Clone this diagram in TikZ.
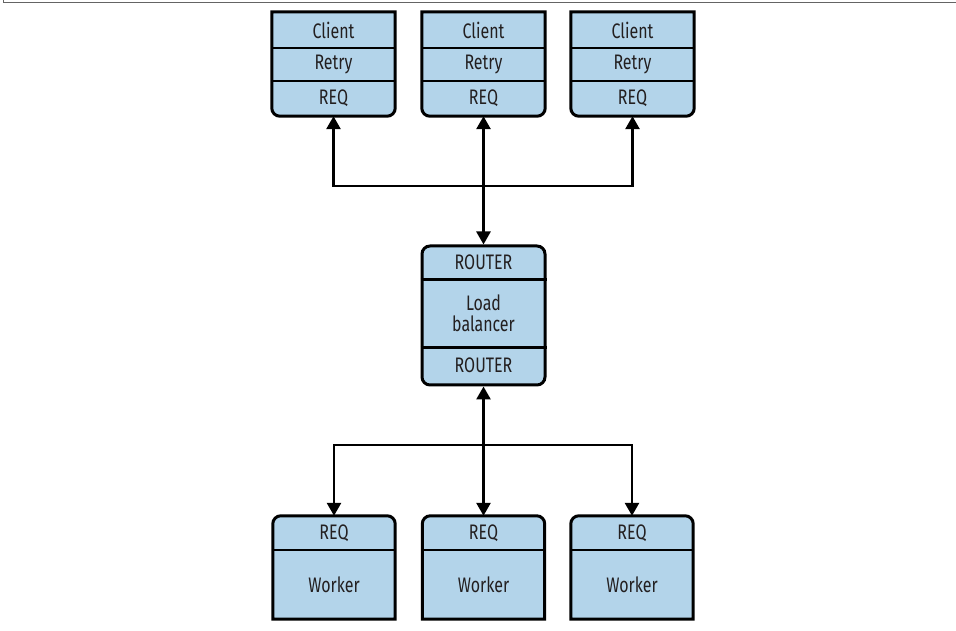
\documentclass[tikz,border=0pt]{standalone}
\usepackage{fontspec}
\setmainfont[FakeStretch=0.76]{Fira Sans}
\usetikzlibrary{arrows.meta,calc}
\definecolor{boxblue}{RGB}{179,212,234}
\definecolor{txt}{RGB}{35,31,32}
\definecolor{framegray}{RGB}{100,100,100}
\newcommand{\clientshape}[1]{%
  \draw[boxline] (#1.north west) -- (#1.north east) -- ([yshift=8pt]#1.south east)
    arc[start angle=0,end angle=-90,radius=8pt] -- ([xshift=8pt]#1.south west)
    arc[start angle=270,end angle=180,radius=8pt] -- cycle;}
\newcommand{\workershape}[1]{%
  \draw[boxline] (#1.south west) -- ([yshift=-8pt]#1.north west)
    arc[start angle=180,end angle=90,radius=8pt] -- ([xshift=-8pt]#1.north east)
    arc[start angle=90,end angle=0,radius=8pt] -- (#1.south east) -- cycle;}
\begin{document}
\begin{tikzpicture}[x=1pt,y=1pt,
  boxline/.style={line width=3pt,fill=boxblue,draw=black},
  divline/.style={line width=2.2pt,draw=black},
  holder/.style={inner sep=0pt,minimum width=123pt,draw=none},
  lbl/.style={inner sep=0pt,font=\fontsize{21}{22}\selectfont,text=txt,align=center},
  conn/.style={line width=2.7pt,-{Triangle[width=14pt,length=13pt]}},
  conn2/.style={line width=2.7pt,{Triangle[width=14pt,length=13pt]}-{Triangle[width=14pt,length=13pt]}}]
\useasboundingbox (0,0) rectangle (956,631);
% frame
\draw[framegray,line width=1.5pt] (3.5,631) -- (3.5,628.5) -- (956,628.5);
% client holders
\foreach \n/\x in {c1/333.5,c2/483.5,c3/632.5}{
  \node[holder,minimum height=104pt] (\n) at (\x,567) {};
}
\clientshape{c1}\clientshape{c2}\clientshape{c3}
\foreach \n in {c1,c2,c3}{
  \draw[divline] ($(\n.north west)+(0,-36)$) -- ($(\n.north east)+(0,-36)$);
  \draw[divline] ($(\n.north west)+(0,-69)$) -- ($(\n.north east)+(0,-69)$);
  \node[lbl] (\n-a) at ($(\n.north)+(0,-18.5)$) {Client};
  \node[lbl] (\n-b) at ($(\n.north)+(0,-52.5)$) {Retry};
  \node[lbl] (\n-c) at ($(\n.north)+(0,-86.5)$) {REQ};
}
% router
\node[holder,minimum height=139pt,rounded corners=8pt,draw=black,line width=3pt,fill=boxblue] (r) at (483.5,315.5) {};
\draw[divline] ($(r.north west)+(0,-35)$) -- ($(r.north east)+(0,-35)$);
\draw[divline] ($(r.north west)+(0,-103)$) -- ($(r.north east)+(0,-103)$);
\node[lbl] (r-a) at ($(r.north)+(0,-17.5)$) {ROUTER};
\node[lbl] (r-b) at ($(r.north)+(0,-69)$) {Load\\[-1pt]balancer};
\node[lbl] (r-c) at ($(r.north)+(0,-121)$) {ROUTER};
% workers
\foreach \n/\x in {w1/334,w2/483.5,w3/632}{
  \node[holder,minimum height=103pt,minimum width=122pt] (\n) at (\x,63.5) {};
}
\workershape{w1}\workershape{w2}\workershape{w3}
\foreach \n in {w1,w2,w3}{
  \draw[divline] ($(\n.north west)+(0,-34)$) -- ($(\n.north east)+(0,-34)$);
  \node[lbl] (\n-a) at ($(\n.north)+(0,-17.5)$) {REQ};
  \node[lbl] (\n-b) at ($(\n.north)+(0,-69)$) {Worker};
}
% connectors
\coordinate (jt) at (483.5,445);
\coordinate (jb) at (483.5,186);
\draw[conn2] (r.north) -- (c2.south);
\draw[conn] (jt) -| (c1.south);
\draw[conn] (jt) -| (c3.south);
\draw[line width=2.7pt,{Triangle[width=14pt,length=13pt]}-] (r.south) -- (jb);
\draw[conn] (jb) -- (w2.north);
\draw[conn] (jb) -| (w1.north);
\draw[conn] (jb) -| (w3.north);
\end{tikzpicture}
\end{document}
